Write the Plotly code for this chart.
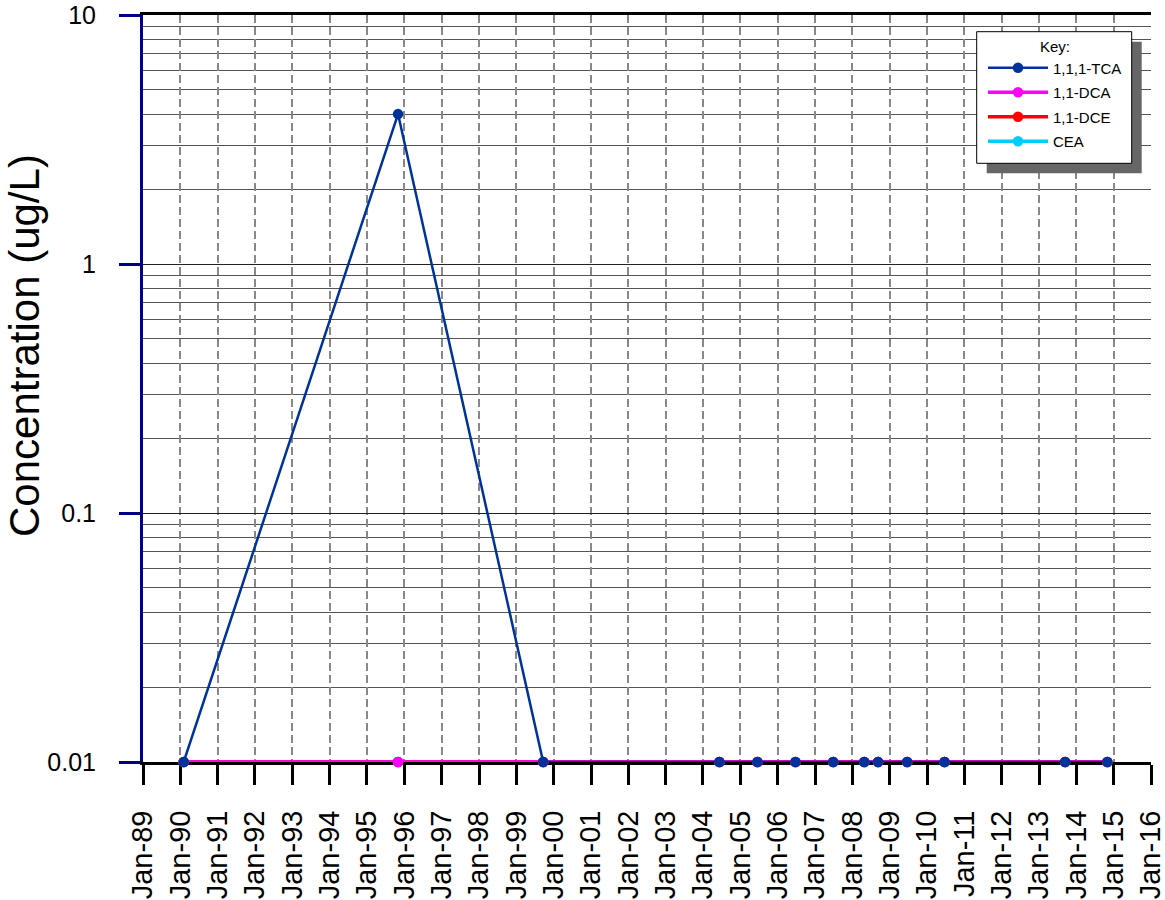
import plotly.graph_objects as go

# ---- data ----
dates = ["1990-02-03", "1995-11-01", "1999-09-21", "2004-06-10", "2005-06-17",
         "2006-06-24", "2007-06-28", "2008-04-27", "2008-09-09", "2009-06-21",
         "2010-06-21", "2013-09-13", "2014-10-31"]
tca = [0.01, 4.0, 0.01, 0.01, 0.01, 0.01, 0.01, 0.01, 0.01, 0.01, 0.01, 0.01, 0.01]
dca = [0.01] * 13
dce = [0.01] * 13
cea = [0.01] * 13

series_names = ["CEA", "1,1-DCE", "1,1-DCA", "1,1,1-TCA"]
series_vals = [cea, dce, dca, tca]
series_colors = ["#00CCFF", "#FF0000", "#FF00FF", "#003399"]
legend_ranks = [4, 3, 2, 1]

y_tickvals = [0.01, 0.1, 1, 10]
y_ticktext = ["0.01", "0.1", "1", "10"]

# ---- layout helpers (page pixel -> paper) ----
W, H = 1165, 900
L, R, T, B = 143, 14, 15, 138
PW, PH = W - L - R, H - T - B


def px(x):
    return (x - L) / PW


def py(y):
    return (T + PH - y) / PH


FONT = "Arial, Liberation Sans, sans-serif"

fig = go.Figure()
for name, vals, col, rk in zip(series_names, series_vals, series_colors, legend_ranks):
    fig.add_trace(go.Scatter(
        x=dates, y=vals, name=name, mode="lines+markers",
        line=dict(color=col, width=2.5 if name == "1,1,1-TCA" else 3.5),
        marker=dict(color=col, size=10.5),
        cliponaxis=False, legendgroup=name, legendrank=rk,
    ))

# legend box with shadow
fig.add_shape(type="rect", xref="paper", yref="paper",
              x0=px(986.7), x1=px(1141.7), y0=py(173.3), y1=py(41.7),
              fillcolor="#666666", line=dict(width=0), layer="above")
fig.add_shape(type="rect", xref="paper", yref="paper",
              x0=px(976.7), x1=px(1131.7), y0=py(163.3), y1=py(31.7),
              fillcolor="white", line=dict(color="black", width=1), layer="above")

fig.add_annotation(text="Concentration (ug/L)", xref="paper", yref="paper",
                   x=px(25), y=py(346), textangle=-90, showarrow=False,
                   xanchor="center", yanchor="middle",
                   font=dict(family=FONT, size=42, color="black"))

fig.update_layout(
    width=W, height=H,
    margin=dict(l=L, r=R, t=T, b=B, pad=0),
    paper_bgcolor="white", plot_bgcolor="white",
    font=dict(family=FONT, color="black"),
    showlegend=True,
    legend=dict(
        x=px(983), y=py(32), xanchor="left", yanchor="top",
        bgcolor="rgba(0,0,0,0)", borderwidth=0,
        traceorder="grouped", tracegroupgap=2,
        font=dict(family=FONT, size=15, color="black"),
        title=dict(text="Key:", side="top center",
                   font=dict(family=FONT, size=15, color="black")),
        itemwidth=60,
    ),
    xaxis=dict(
        type="date", range=["1989-01-01", "2016-01-01"],
        tick0="1989-01-01", dtick="M12", tickformat="%b-%y",
        tickangle=-90, tickfont=dict(family=FONT, size=29, color="black"),
        ticks="outside", ticklen=20, tickwidth=3, tickcolor="black",
        ticklabelstandoff=14, ticklabeloverflow="allow",
        showline=True, linecolor="black", linewidth=3, mirror=True,
        showgrid=True, gridcolor="#888888", gridwidth=1.5, griddash="8px,4px",
        zeroline=False, automargin=False, layer="below traces",
    ),
    yaxis=dict(
        type="log", range=[-2, 1],
        tickvals=y_tickvals, ticktext=y_ticktext,
        tickfont=dict(family=FONT, size=25, color="black"),
        ticks="outside", ticklen=21, tickwidth=3, tickcolor="#000080",
        ticklabelstandoff=18, ticklabeloverflow="allow",
        showline=True, linecolor="#000080", linewidth=3,
        showgrid=True, gridcolor="#222222", gridwidth=1,
        minor=dict(dtick="D1", showgrid=True, gridcolor="#555555", gridwidth=1, ticks=""),
        zeroline=False, automargin=False, layer="below traces",
    ),
)

fig.write_html("out.html", config={"displayModeBar": False},
               post_script="document.body.style.margin='0px';")
